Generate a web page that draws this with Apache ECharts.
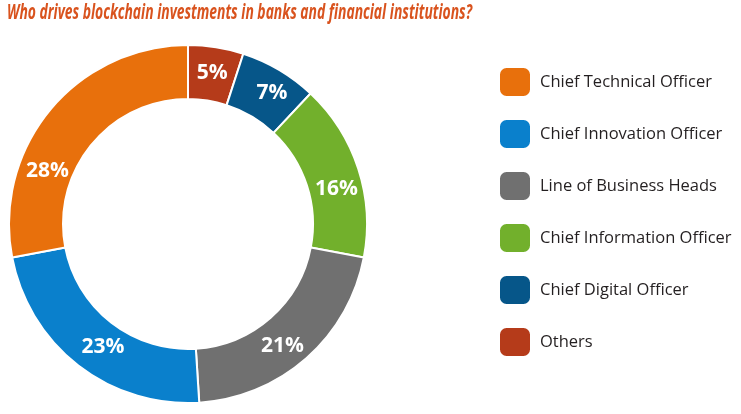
<!DOCTYPE html>
<html>
<head>
<meta charset="utf-8">
<script src="https://cdn.jsdelivr.net/npm/echarts@6/dist/echarts.min.js"></script>
<style>
html,body{margin:0;padding:0;background:#fff;}
#c{width:741px;height:414px;}
</style>
</head>
<body>
<div id="c"></div>
<script>
// Data (legend order)
var titleText = 'Who drives blockchain investments in banks and financial institutions?';
var categories = ['Chief Technical Officer','Chief Innovation Officer','Line of Business Heads','Chief Information Officer','Chief Digital Officer','Others'];
var values = [28, 23, 21, 16, 7, 5];
var colors = ['#e8700c','#0a80cc','#707070','#72b02c','#065689','#b53b1a'];
// label nudges (style only), per category
var labelNudge = [[-21,46],[10,1],[-8,6],[1,13],[5,2],[0,2]];

// Pie draws clockwise from top starting with 'Others'
var pieOrder = [5,4,3,2,1,0];
var pieData = pieOrder.map(function(i){
  return {name: categories[i], value: values[i], itemStyle:{color: colors[i]},
          label:{offset: labelNudge[i]}};
});

var titleFont = 'italic bold 22px "Open Sans"';
var mctx = document.createElement('canvas').getContext('2d');
mctx.font = titleFont;
var tw = mctx.measureText(titleText).width || 700;
var sx = 465 / tw;

var chart = echarts.init(document.getElementById('c'));
chart.setOption({
  animation:false,
  graphic:[{
    type:'text',
    x:7, y:2,
    scaleX:sx,
    silent:true,
    style:{text:titleText, font:titleFont, fill:'#d9531e', textVerticalAlign:'top', textAlign:'left'}
  }],
  legend:{
    orient:'vertical',
    left:498, top:66, padding:0,
    itemWidth:32, itemHeight:30, itemGap:20,
    icon:'roundRect',
    data:categories,
    selectedMode:false,
    textStyle:{color:'#231f20', fontSize:16.5, fontFamily:'Open Sans, sans-serif', padding:[0,0,0,4]}
  },
  series:[{
    type:'pie',
    center:[188,224],
    radius:[125,179],
    startAngle:90,
    clockwise:true,
    silent:true,
    itemStyle:{borderColor:'#fff', borderWidth:2},
    label:{
      position:'inside',
      formatter:'{c}%',
      color:'#fff',
      fontSize:21,
      fontWeight:'bold',
      fontFamily:'Open Sans, sans-serif'
    },
    labelLine:{show:false},
    data:pieData
  }]
});
</script>
</body>
</html>
